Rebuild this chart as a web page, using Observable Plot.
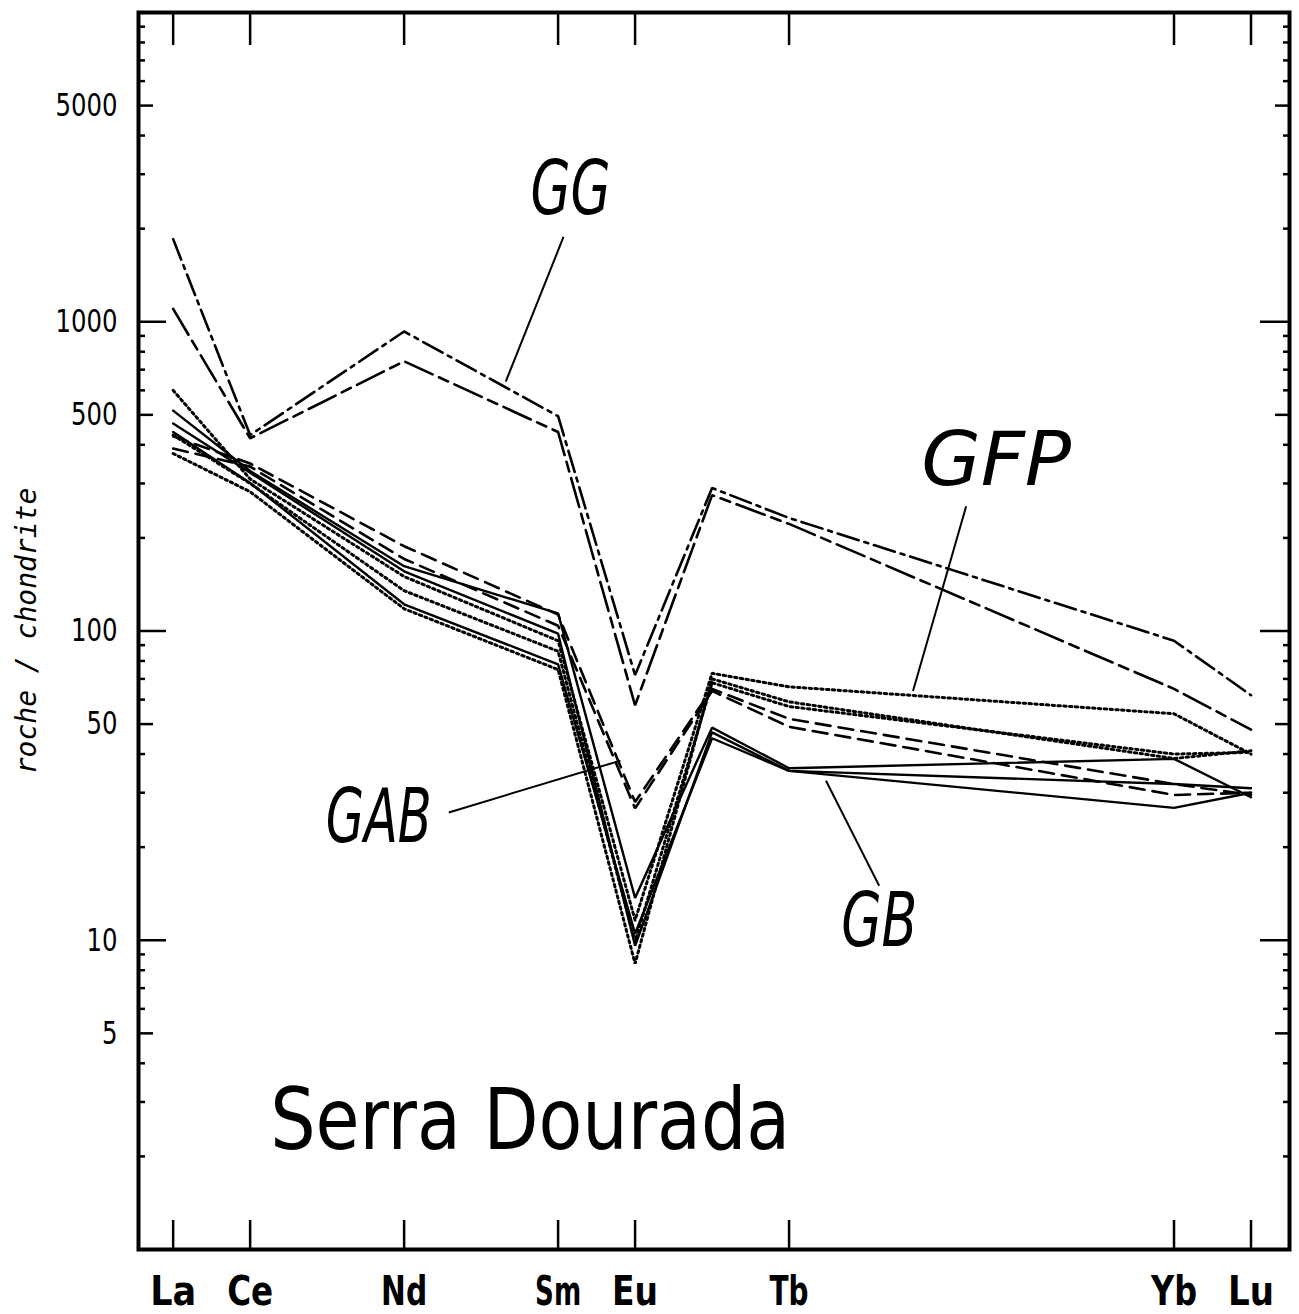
<!DOCTYPE html>
<html>
<head>
<meta charset="utf-8">
<script src="https://cdn.jsdelivr.net/npm/d3@7"></script>
<script src="https://cdn.jsdelivr.net/npm/@observablehq/plot@0.6"></script>
<style>
  html, body { margin: 0; padding: 0; background: #fff; overflow: hidden; }
  #chart svg { display: block; }
</style>
</head>
<body>
<div id="chart"></div>
<script>
// ---- data ----
const elements = ["La", "Ce", "Nd", "Sm", "Eu", "Gd", "Tb", "Yb", "Lu"];
const atomicNumbers = [57, 58, 60, 62, 63, 64, 65, 70, 71];

// GG : dash-dot
const GG_1 = [1850, 430, 930, 495, 72, 290, 232, 93, 62];
const GG_2 = [1100, 420, 745, 440, 57.5, 275, 222, 65, 48];
// GFP : dotted
const GFP_1 = [600, 310, 150, 93, 11.6, 73, 66, 54, 40];
const GFP_2 = [375, 282, 118, 75, 8.4, 70, 59, 38.7, 41];
const GFP_3 = [430, 300, 135, 86, 9.9, 68, 57, 40, 40.5];
// GAB : dashed
const GAB_1 = [426, 348, 188, 113, 28, 65, 52, 32, 29.5];
const GAB_2 = [389, 340, 171, 104, 26.7, 64, 49, 29.5, 30];
// GB : solid
const GB_1 = [516, 329, 162, 114, 13.7, 48.7, 36, 38.6, 29];
const GB_2 = [469, 325, 156, 98, 9.6, 47, 35.3, 32, 31];
const GB_3 = [440, 301, 122, 78, 10.5, 45, 35.3, 26.8, 30];

// axis ticks
const xTickElements = ["La", "Ce", "Nd", "Sm", "Eu", "Tb", "Yb", "Lu"];
const xTickNumbers = [57, 58, 60, 62, 63, 65, 70, 71];
const yLabelTicks = [5, 10, 50, 100, 500, 1000, 5000];
const yMajorTicks = [10, 100, 1000];
const yMediumTicks = [5, 50, 500, 5000];
const yMinorMantissas = [2, 3, 4, 6, 7, 8, 9];
const yDecades = [1, 10, 100, 1000];

// annotations (data units: atomic number, roche/chondrite)
const annotLabels = ["GG", "GFP", "GAB", "GB"];
const annotTextX = [62.16, 67.69, 59.67, 66.17];
const annotTextY = [2667, 353, 24.8, 11.4];
const leaderX1 = [62.07, 67.30, 60.58, 66.17];
const leaderY1 = [1880, 253, 25.9, 15.0];
const leaderX2 = [61.32, 66.61, 62.81, 65.48];
const leaderY2 = [640, 64, 38.1, 32.8];

const titleText = "Serra Dourada";
const titleX = 58.26;
const titleY = 2.59;
const yAxisTitle = "roche / chondrite";
const yAxisTitleAt = 100;

// ---- build tables ----
const seriesDefs = [
  {name: "GG_1", group: "GG", values: GG_1},
  {name: "GG_2", group: "GG2", values: GG_2},
  {name: "GFP_1", group: "GFP", values: GFP_1},
  {name: "GFP_2", group: "GFP", values: GFP_2},
  {name: "GFP_3", group: "GFP", values: GFP_3},
  {name: "GAB_1", group: "GAB", values: GAB_1},
  {name: "GAB_2", group: "GAB", values: GAB_2},
  {name: "GB_1", group: "GB", values: GB_1},
  {name: "GB_2", group: "GB", values: GB_2},
  {name: "GB_3", group: "GB", values: GB_3}
];
const rows = s => s.values.map((v, i) => ({el: elements[i], z: atomicNumbers[i], v, series: s.name}));
const styleFor = {
  GG:  {strokeWidth: 2.6, strokeDasharray: "22 6 4 6"},
  GG2: {strokeWidth: 2.6, strokeDasharray: "30 7 10 7"},
  GFP: {strokeWidth: 3, strokeDasharray: "2.4 3.4"},
  GAB: {strokeWidth: 2.6, strokeDasharray: "15 8"},
  GB:  {strokeWidth: 2.4}
};
const yMinorTicks = [];
for (const d of yDecades) for (const m of yMinorMantissas) yMinorTicks.push(m * d);

const annots = annotLabels.map((t, i) => ({
  t, tx: annotTextX[i], ty: annotTextY[i],
  x1: leaderX1[i], y1: leaderY1[i], x2: leaderX2[i], y2: leaderY2[i]
}));
const xLabelOf = new Map(xTickNumbers.map((n, i) => [n, xTickElements[i]]));

const narrow = "'Liberation Sans Narrow', 'DejaVu Sans Condensed', 'DejaVu Sans', sans-serif";

const lineMarks = seriesDefs.map(s => Plot.line(rows(s), {
  x: "z", y: "v", stroke: "black", strokeLinejoin: "miter", ...styleFor[s.group]
}));

const tickStyle = {stroke: "black", strokeWidth: 2.5, tickFormat: () => "", label: null};

const chart = Plot.plot({
  width: 1299,
  height: 1314,
  marginLeft: 138,
  marginRight: 10,
  marginTop: 12,
  marginBottom: 65,
  style: {background: "white", color: "black"},
  x: {type: "linear", domain: [56.55, 71.5]},
  y: {type: "log", domain: [1, 10000]},
  marks: [
    ...lineMarks,
    // leader lines
    Plot.link(annots, {x1: "x1", y1: "y1", x2: "x2", y2: "y2", stroke: "black", strokeWidth: 2}),
    // annotation labels
    Plot.text(annots, {x: "tx", y: "ty", text: "t", fontSize: 74, fontStyle: "italic",
      fontFamily: narrow, fill: "black"}),
    // title
    Plot.text([titleText], {x: titleX, y: titleY, text: d => d, textAnchor: "start",
      fontSize: 86, fontFamily: narrow, fill: "black"}),
    // y axis title
    Plot.text([yAxisTitle], {frameAnchor: "left", y: yAxisTitleAt, text: d => d, rotate: -90,
      textAnchor: "middle", dx: -111, fontSize: 28, fontStyle: "italic",
      fontFamily: "'DejaVu Sans Mono', monospace", fill: "black"}),
    // y ticks left & right
    Plot.axisY(yMajorTicks, {anchor: "left", tickSize: -28, ...tickStyle}),
    Plot.axisY(yMediumTicks, {anchor: "left", tickSize: -15, ...tickStyle}),
    Plot.axisY(yMinorTicks, {anchor: "left", tickSize: -7, ...tickStyle}),
    Plot.axisY(yMajorTicks, {anchor: "right", tickSize: -30, ...tickStyle}),
    Plot.axisY(yMediumTicks, {anchor: "right", tickSize: -15, ...tickStyle}),
    Plot.axisY(yMinorTicks, {anchor: "right", tickSize: -7, ...tickStyle}),
    // y labels
    Plot.axisY(yLabelTicks, {anchor: "left", tickSize: 0, tickPadding: 21, fontSize: 32,
      fontFamily: narrow, tickFormat: d => String(d), label: null}),
    // x ticks top & bottom
    Plot.axisX(xTickNumbers, {anchor: "top", tickSize: -32, ...tickStyle}),
    Plot.axisX(xTickNumbers, {anchor: "bottom", tickSize: -29, ...tickStyle}),
    // x labels
    Plot.axisX(xTickNumbers, {anchor: "bottom", tickSize: 0, tickPadding: 27, fontSize: 40,
      fontWeight: "bold", fontFamily: narrow, tickFormat: d => xLabelOf.get(d), label: null}),
    Plot.frame({stroke: "black", strokeWidth: 4})
  ]
});

document.getElementById("chart").appendChild(chart);

// condense text widths to the plotter lettering of the original
const fit = (content, len) => d3.select(chart).selectAll("text")
  .filter(function () { return this.textContent === content; })
  .attr("textLength", len).attr("lengthAdjust", "spacingAndGlyphs");
fit(titleText, 520);
fit("GG", 80); fit("GFP", 150); fit("GAB", 106); fit("GB", 76);
yLabelTicks.forEach(v => fit(String(v), 15.5 * String(v).length));
xTickElements.forEach(e => fit(e, e === "Tb" ? 39 : 46));
</script>
</body>
</html>
